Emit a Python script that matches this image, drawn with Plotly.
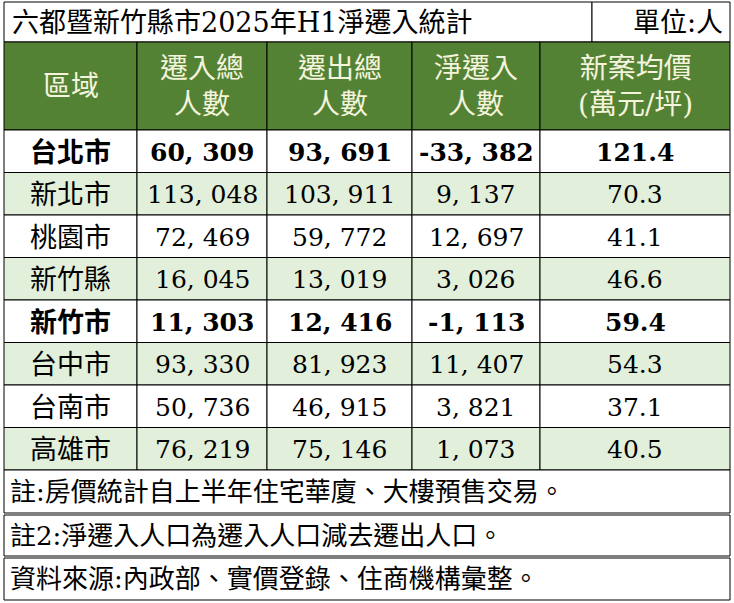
import plotly.graph_objects as go

title = "六都暨新竹縣市2025年H1淨遷入統計"
unit = "單位:人"
headers = ["區域", "遷入總<br>人數", "遷出總<br>人數", "淨遷入<br>人數", "新案均價<br>(萬元/坪)"]
regions = ["台北市", "新北市", "桃園市", "新竹縣", "新竹市", "台中市", "台南市", "高雄市"]
move_in = [60309, 113048, 72469, 16045, 11303, 93330, 50736, 76219]
move_out = [93691, 103911, 59772, 13019, 12416, 81923, 46915, 75146]
net = [-33382, 9137, 12697, 3026, -1113, 11407, 3821, 1073]
price = [121.4, 70.3, 41.1, 46.6, 59.4, 54.3, 37.1, 40.5]
bold_rows = ["台北市", "新竹市"]
notes = ["註:房價統計自上半年住宅華廈、大樓預售交易。",
         "註2:淨遷入人口為遷入人口減去遷出人口。",
         "資料來源:內政部、實價登錄、住商機構彙整。"]

W, H = 734, 603
cols = [4, 137, 267, 412, 540, 730]
FONT = "DejaVu Serif, Noto Sans CJK TC"
GREEN = "#548235"; LIGHT = "#e2efda"

fig = go.Figure()
shapes = []; ann = []
def rect(x0, y0, x1, y1, fill):
    shapes.append(dict(type="rect", x0=x0, y0=y0, x1=x1, y1=y1, fillcolor=fill,
                       line=dict(color="black", width=1), layer="below"))
def txt(x, y, s, size=26, color="black", bold=False, anchor="center"):
    if bold: s = "<b>" + s + "</b>"
    ann.append(dict(x=x, y=y, text=s, showarrow=False, xanchor=anchor, yanchor="middle",
                    font=dict(family=FONT, size=size, color=color)))

# title row
rect(cols[0], 2, 592, 42, "white"); rect(592, 2, cols[-1], 42, "white")
txt(10, 22, title, 27, anchor="left")
txt(725, 22, unit, 27, anchor="right")
# header
for i in range(5):
    rect(cols[i], 42, cols[i+1], 130, GREEN)
    txt((cols[i]+cols[i+1])/2, 86, headers[i], 28, color="#f4f4dc")
# data
rh = (470-130)/8
fmt = lambda v: f"{v:,}".replace(",", ", ")
for r, reg in enumerate(regions):
    y0 = 130 + r*rh
    fill = "white" if r % 2 == 0 else LIGHT
    b = reg in bold_rows
    vals = [reg, fmt(move_in[r]), fmt(move_out[r]), fmt(net[r]), f"{price[r]:.1f}"]
    for i in range(5):
        rect(cols[i], y0, cols[i+1], y0+rh, fill)
        txt((cols[i]+cols[i+1])/2, y0+rh/2+1, vals[i], 25 if i else 27, bold=b)
# notes
ny = [(470, 513), (515, 556), (558, 600)]
for (a, b_), s in zip(ny, notes):
    rect(cols[0], a, cols[-1], b_, "white")
    txt(8, (a+b_)/2, s, 26, anchor="left")

fig.update_layout(width=W, height=H, margin=dict(l=0, r=0, t=0, b=0),
                  plot_bgcolor="white", paper_bgcolor="white",
                  xaxis=dict(range=[0, W], visible=False, fixedrange=True),
                  yaxis=dict(range=[H, 0], visible=False, fixedrange=True),
                  shapes=shapes, annotations=ann, showlegend=False)
fig.write_html("out.html", config={"displayModeBar": False})
with open("out.html", encoding="utf-8") as f:
    html = f.read()
html = html.replace("<head>", "<head><style>html,body{margin:0;padding:0;overflow:hidden}</style>", 1)
with open("out.html", "w", encoding="utf-8") as f:
    f.write(html)
